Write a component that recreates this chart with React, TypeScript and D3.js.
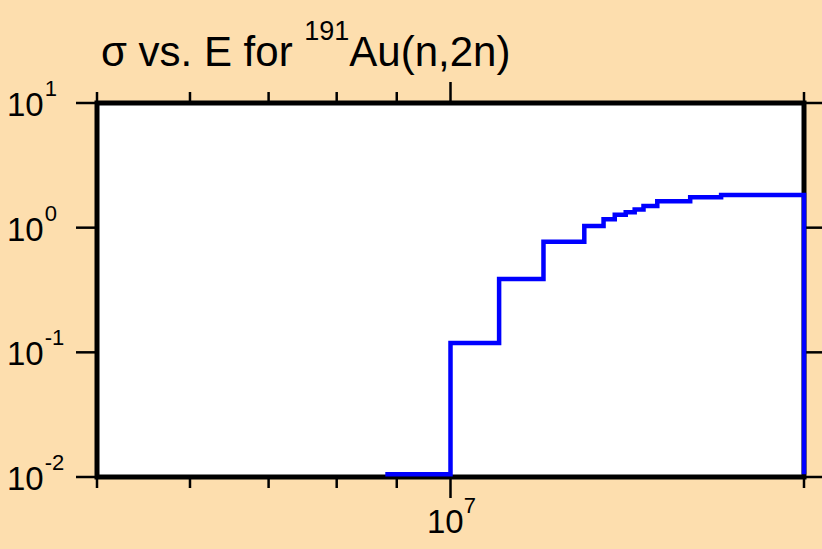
import React from "react";
import * as d3 from "d3";

// Data: step-after cross section for 191Au(n,2n)
const energies = [8.8e6, 1.0e7, 1.1e7, 1.2e7, 1.3e7, 1.35e7, 1.38e7, 1.41e7, 1.435e7, 1.46e7, 1.5e7, 1.6e7, 1.7e7, 2.0e7];
const sigma = [0.0105, 0.119, 0.387, 0.77, 1.03, 1.17, 1.27, 1.33, 1.40, 1.49, 1.63, 1.75, 1.83, 0.0105];

const xMajorTicks = [1e7];
const xMajorLabels = ["7"];
const xMinorTicks = [5e6, 6e6, 7e6, 8e6, 9e6, 2e7];
const yTicks = [10, 1, 0.1, 0.01];
const yTickExps = ["1", "0", "-1", "-2"];

const W = 822;
const H = 549;
const left = 97;
const right = 804;
const top = 103;
const bottom = 477;
const BG = "#fddeae";
const FONT = "'Liberation Sans', Arial, Helvetica, sans-serif";

export default function App() {
  const x = d3.scaleLog().domain([5e6, 2e7]).range([left, right]);
  const y = d3.scaleLog().domain([0.01, 10]).range([bottom, top]);
  const pts: [number, number][] = energies.map((e, i) => [e, sigma[i]]);
  const line = d3
    .line<[number, number]>()
    .x((d) => x(d[0]))
    .y((d) => y(d[1]))
    .curve(d3.curveStepAfter);

  return (
    <svg
      width={W}
      height={H}
      style={{ position: "absolute", left: 0, top: 0, display: "block" }}
      fontFamily={FONT}
    >
      <rect x={0} y={0} width={W} height={H} fill={BG} />
      <rect x={left} y={top} width={right - left} height={bottom - top} fill="#ffffff" />

      {/* title */}
      <text x={101} y={66} fontSize={42} fill="#000">
        <tspan>σ vs. E for </tspan>
        <tspan fontSize={27} dy={-26}>191</tspan>
        <tspan dy={26}>Au(n,2n)</tspan>
      </text>

      {/* x ticks */}
      {xMinorTicks.map((t, i) => (
        <g key={"xm" + i} stroke="#000" strokeWidth={2.5}>
          <line x1={x(t)} x2={x(t)} y1={bottom} y2={bottom + 11} />
          <line x1={x(t)} x2={x(t)} y1={top} y2={top - 11} />
        </g>
      ))}
      {xMajorTicks.map((t, i) => (
        <g key={"xM" + i}>
          <line x1={x(t)} x2={x(t)} y1={bottom} y2={bottom + 21} stroke="#000" strokeWidth={2.5} />
          <line x1={x(t)} x2={x(t)} y1={top} y2={top - 21} stroke="#000" strokeWidth={2.5} />
          <text x={x(t) + 1} y={533} fontSize={33} textAnchor="middle" fill="#000">
            <tspan>10</tspan>
            <tspan fontSize={22} dy={-20}>{xMajorLabels[i]}</tspan>
          </text>
        </g>
      ))}

      {/* y ticks */}
      {yTicks.map((t, i) => (
        <g key={"y" + i}>
          <line x1={left - 21} x2={left} y1={y(t)} y2={y(t)} stroke="#000" strokeWidth={2.5} />
          <line x1={right} x2={right + 21} y1={y(t)} y2={y(t)} stroke="#000" strokeWidth={2.5} />
          <text x={7} y={y(t) + 13} fontSize={33} fill="#000">
            <tspan>10</tspan>
            <tspan fontSize={22} dx={1} dy={-20}>{yTickExps[i]}</tspan>
          </text>
        </g>
      ))}

      {/* frame */}
      <rect
        x={left}
        y={top}
        width={right - left}
        height={bottom - top}
        fill="none"
        stroke="#000"
        strokeWidth={5}
      />

      {/* data */}
      <path d={line(pts) || ""} fill="none" stroke="#0000ff" strokeWidth={4.5} strokeLinejoin="miter" />
    </svg>
  );
}
